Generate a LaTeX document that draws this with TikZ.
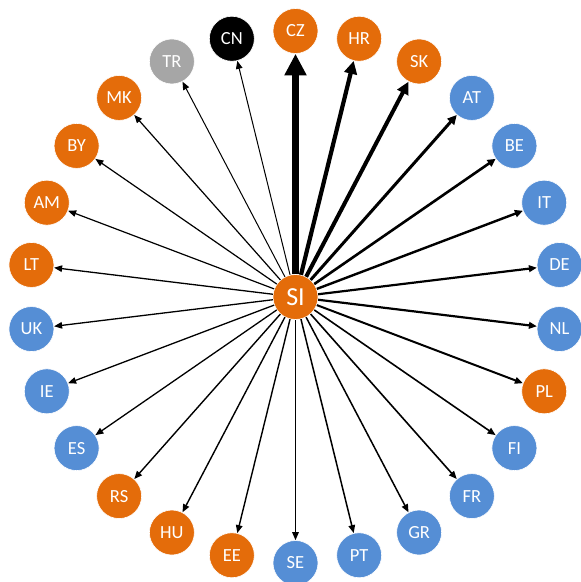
\documentclass[tikz,border=0pt]{standalone}
\usepackage{fontspec}
\setmainfont{Carlito}
\usetikzlibrary{arrows.meta}
\definecolor{orng}{RGB}{228,108,10}
\definecolor{blu}{RGB}{85,142,213}
\definecolor{gry}{RGB}{166,166,166}
\definecolor{blk}{RGB}{0,0,0}
\tikzset{
  country/.style={circle, fill=#1, draw=white, line width=0.6pt, minimum size=45pt,
    inner sep=0pt, text=white, font=\fontsize{18.5}{20}\selectfont},
  hub/.style={circle, fill=orng, draw=white, line width=0.6pt, minimum size=45pt,
    inner sep=0pt, text=white, font=\fontsize{26}{28}\selectfont},
  flow/.style={draw=black, line width=#1pt},
}
\begin{document}
\begin{tikzpicture}[x=1pt,y=1pt]
\useasboundingbox (0,0) rectangle (581,582);
\coordinate (c) at (295.5,285);
\node[hub] (SI) at (c) {SI};
% partner countries, clockwise from the top, with the width of each flow
\foreach \name/\col/\w [count=\k from 0] in {
  CZ/orng/7, HR/orng/4.2, SK/orng/4, AT/blu/3, BE/blu/2.6, IT/blu/2.4,
  DE/blu/2.2, NL/blu/2.2, PL/orng/2, FI/blu/1.6, FR/blu/1.6, GR/blu/1.5,
  PT/blu/1.5, SE/blu/1.4, EE/orng/1.4, HU/orng/1.4, RS/orng/1.4, ES/blu/1.3,
  IE/blu/1.3, UK/blu/1.3, LT/orng/1.3, AM/orng/1.2, BY/orng/1.2, MK/orng/1.2,
  TR/gry/1, CN/blk/1}
{
  \pgfmathsetmacro\ang{90-\k*360/26}
  \pgfmathsetmacro\hl{max(8,3.1*\w)}
  \pgfmathsetmacro\hw{max(6.5,3*\w)}
  \node[country=\col] (\name) at ([shift={(\ang:266)}]c) {\name};
  \draw[flow=\w, -{Triangle[length=\hl pt, width=\hw pt]}] (SI) -- (\name);
}
\end{tikzpicture}
\end{document}
